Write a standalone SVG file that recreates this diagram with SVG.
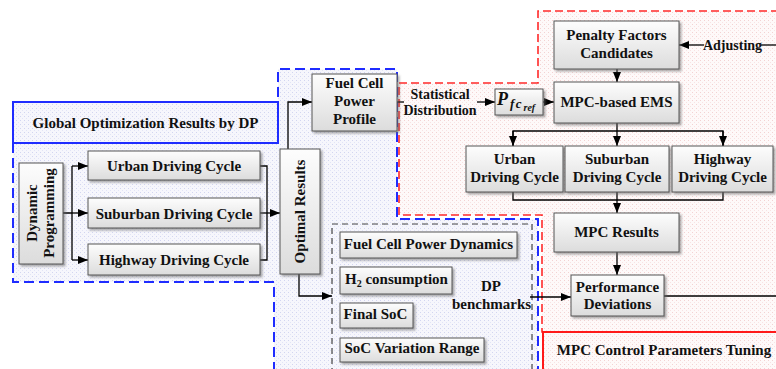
<svg xmlns="http://www.w3.org/2000/svg" width="776" height="369" viewBox="0 0 776 369">
<defs>
<style>
.t{font-family:"Liberation Serif","Times New Roman",serif;font-weight:bold;font-size:15px;fill:#111;text-anchor:middle}
.s{font-size:14px}
.box{fill:url(#g);stroke:#555;stroke-width:1;filter:url(#sh)}
.c{fill:none;stroke:#000;stroke-width:1.3}
.ca{fill:none;stroke:#000;stroke-width:1.3;marker-end:url(#ah)}
.bd{fill:url(#pb);stroke:#1f2cff;stroke-width:2;stroke-dasharray:10 5}
.rd{fill:url(#pr);stroke:#ff2a2a;stroke-width:1.6;stroke-dasharray:8 4}
</style>
<linearGradient id="g" x1="0" y1="0" x2="0" y2="1">
<stop offset="0" stop-color="#fdfdfd"/><stop offset="1" stop-color="#dcdcdc"/>
</linearGradient>
<pattern id="pb" width="4" height="4" patternUnits="userSpaceOnUse"><rect width="4" height="4" fill="#f6f6fc"/><rect width="1" height="1" fill="#d2d5f0"/><rect x="2" y="2" width="1" height="1" fill="#e2e4f6"/></pattern>
<pattern id="pr" width="4" height="4" patternUnits="userSpaceOnUse"><rect width="4" height="4" fill="#fef9f9"/><rect width="1" height="1" fill="#f3d2d2"/><rect x="2" y="2" width="1" height="1" fill="#f8e3e3"/></pattern>
<filter id="sh" x="-10%" y="-10%" width="130%" height="140%"><feDropShadow dx="2" dy="2" stdDeviation="1" flood-color="#666" flood-opacity="0.55"/></filter>
<marker id="ah" markerWidth="10" markerHeight="8" refX="10" refY="4" orient="auto" markerUnits="userSpaceOnUse"><path d="M0,0 L10,4 L0,8 Z" fill="#000"/></marker>
</defs>
<rect width="776" height="369" fill="#fff"/>

<g id="regions">
<path class="bd" d="M13,102 H278 V69 H397 V219 H538 V372 H274 V282 H13 Z"/>
<path class="rd" d="M399,83 H538 V11 H780 V332 H542 V215 H399 Z"/>
<rect x="13" y="102" width="265" height="41" fill="url(#pb)" stroke="#1f2cff" stroke-width="2"/>
<rect x="543" y="332" width="240" height="45" fill="url(#pr)" stroke="#ff1a1a" stroke-width="2"/>
<rect x="332" y="224" width="200" height="150" fill="none" stroke="#444" stroke-width="1.2" stroke-dasharray="6 4"/>
</g>

<g id="connectors">
<path class="c" d="M63,213 H72 M72,166 V260"/>
<path class="ca" d="M72,166 H88"/>
<path class="ca" d="M72,213 H88"/>
<path class="ca" d="M72,260 H88"/>
<path class="c" d="M260,166 H267 V260 H260"/>
<path class="ca" d="M260,213 H280"/>
<path class="ca" d="M288,149 V102 H312"/>
<path class="ca" d="M299,274 V296 H332"/>
<path class="c" d="M397,102 H404"/>
<path class="ca" d="M477,102 H495"/>
<path class="ca" d="M543,102 H554"/>
<path class="ca" d="M617,69 V82"/>
<path class="c" d="M776,45 H761"/>
<path class="ca" d="M704,45 H679"/>
<path class="c" d="M617,123 V131 M513,146 V131 H723 V146"/>
<path class="ca" d="M513,131 V146"/>
<path class="ca" d="M617,131 V146"/>
<path class="ca" d="M723,131 V146"/>
<path class="c" d="M513,192 V200 H723 V192 M617,192 V200"/>
<path class="ca" d="M617,200 V213"/>
<path class="ca" d="M617,252 V275"/>
<path class="ca" d="M530,297 H571"/>
<path class="c" d="M664,296 H776"/>
</g>

<g id="global-title"><text class="t" x="145.5" y="128">Global Optimization Results by DP</text></g>

<g id="dp">
<rect class="box" x="19" y="163" width="44" height="101"/>
<text class="t" transform="translate(41,213) rotate(-90)"><tspan x="0" y="-4">Dynamic</tspan><tspan x="0" y="13">Programming</tspan></text>
</g>
<g id="urban-l"><rect class="box" x="88" y="151" width="172" height="29"/><text class="t" x="174" y="171">Urban Driving Cycle</text></g>
<g id="suburban-l"><rect class="box" x="88" y="198" width="172" height="30"/><text class="t" x="174" y="218.5">Suburban Driving Cycle</text></g>
<g id="highway-l"><rect class="box" x="88" y="244" width="172" height="31"/><text class="t" x="174" y="265">Highway Driving Cycle</text></g>
<g id="optimal">
<rect class="box" x="280" y="149" width="40" height="125"/>
<text class="t" transform="translate(300,211.5) rotate(-90)" x="0" y="5">Optimal Results</text>
</g>
<g id="fcpp">
<rect class="box" x="312" y="74" width="85" height="57"/>
<text class="t"><tspan x="354.5" y="88">Fuel Cell</tspan><tspan x="354.5" y="106">Power</tspan><tspan x="354.5" y="124">Profile</tspan></text>
</g>
<g id="stat-label"><text class="t s"><tspan x="440" y="99">Statistical</tspan><tspan x="440" y="115">Distribution</tspan></text></g>
<g id="pfcref">
<rect class="box" x="495" y="89" width="48" height="26"/>
<text class="t" style="text-anchor:start;font-style:italic"><tspan x="497" y="105" font-size="18">P</tspan><tspan x="510" y="108" font-size="13" letter-spacing="1.5">fc</tspan><tspan x="523.5" y="111" font-size="10">ref</tspan></text>
</g>
<g id="penalty">
<rect class="box" x="554" y="21" width="125" height="48"/>
<text class="t"><tspan x="616.5" y="40">Penalty Factors</tspan><tspan x="616.5" y="58">Candidates</tspan></text>
</g>
<g id="adjusting"><text class="t s" x="732.5" y="50">Adjusting</text></g>
<g id="mpc-ems"><rect class="box" x="554" y="82" width="125" height="41"/><text class="t" x="616.5" y="107">MPC-based EMS</text></g>
<g id="urban-r"><rect class="box" x="466" y="146" width="97" height="46"/><text class="t"><tspan x="514.5" y="164">Urban</tspan><tspan x="514.5" y="182">Driving Cycle</tspan></text></g>
<g id="suburban-r"><rect class="box" x="565" y="146" width="104" height="46"/><text class="t"><tspan x="617" y="164">Suburban</tspan><tspan x="617" y="182">Driving Cycle</tspan></text></g>
<g id="highway-r"><rect class="box" x="672" y="146" width="101" height="46"/><text class="t"><tspan x="722.5" y="164">Highway</tspan><tspan x="722.5" y="182">Driving Cycle</tspan></text></g>
<g id="mpc-results"><rect class="box" x="554" y="213" width="125" height="39"/><text class="t" x="616.5" y="237">MPC Results</text></g>
<g id="perf"><rect class="box" x="571" y="275" width="93" height="41"/><text class="t"><tspan x="617.5" y="292">Performance</tspan><tspan x="617.5" y="309">Deviations</tspan></text></g>
<g id="fcpd"><rect class="box" x="340" y="232" width="177" height="26"/><text class="t" x="428.5" y="249">Fuel Cell Power Dynamics</text></g>
<g id="h2"><rect class="box" x="340" y="267" width="112" height="27"/><text class="t" style="text-anchor:start" x="345" y="284">H<tspan font-size="10" dy="3">2</tspan><tspan dy="-3"> consumption</tspan></text></g>
<g id="final-soc"><rect class="box" x="340" y="303" width="73" height="25"/><text class="t" x="375.5" y="319">Final SoC</text></g>
<g id="soc-range"><rect class="box" x="340" y="338" width="144" height="24"/><text class="t" x="412" y="353">SoC Variation Range</text></g>
<g id="dp-bench"><text class="t"><tspan x="491" y="291">DP</tspan><tspan x="491.5" y="309">benchmarks</tspan></text></g>
<g id="tuning"><text class="t" x="664" y="355">MPC Control Parameters Tuning</text></g>
</svg>
